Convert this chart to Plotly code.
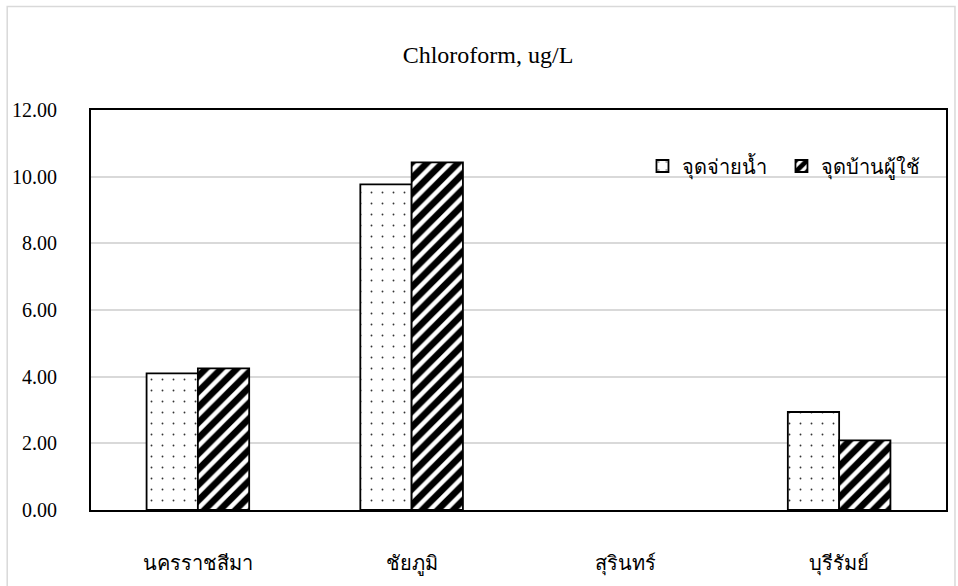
import plotly.graph_objects as go

# Chloroform concentrations (ug/L) by province and sampling point
provinces = ["นครราชสีมา", "ชัยภูมิ", "สุรินทร์", "บุรีรัมย์"]
series_names = ["จุดจ่ายน้ำ", "จุดบ้านผู้ใช้"]
supply_point = [4.10, 9.77, 0.0, 2.94]
household_point = [4.25, 10.43, 0.0, 2.09]
y_ticks = [0, 2, 4, 6, 8, 10, 12]

serif = "Liberation Serif, Times New Roman, serif"


def outline_widths(values, width=1.8):
    # no outline for empty (zero) bars
    return [width if v > 0 else 0 for v in values]


fig = go.Figure()
fig.add_trace(go.Bar(
    x=provinces, y=supply_point, name=series_names[0],
    marker=dict(color="white",
                line=dict(color="black", width=outline_widths(supply_point)),
                pattern=dict(shape=".", fgcolor="black", bgcolor="white",
                             fgopacity=0.8, size=11, solidity=0.022)),
))
fig.add_trace(go.Bar(
    x=provinces, y=household_point, name=series_names[1],
    marker=dict(color="white",
                line=dict(color="black", width=outline_widths(household_point)),
                pattern=dict(shape="/", fgcolor="black", bgcolor="white",
                             fgopacity=1, size=11, solidity=0.6)),
))

fig.update_layout(
    width=958, height=586,
    margin=dict(l=91, r=10, t=110, b=70),
    paper_bgcolor="white", plot_bgcolor="white",
    barmode="group", bargap=0.52, bargroupgap=0,
    font=dict(family=serif, size=19, color="black"),
    title=dict(text="Chloroform, ug/L", x=488 / 958, xanchor="center",
               xref="container", y=1 - 55 / 586, yref="container",
               yanchor="middle",
               font=dict(family=serif, size=24, color="black")),
    legend=dict(orientation="h", x=0.645, xanchor="left", y=0.86,
                yanchor="middle", bgcolor="rgba(0,0,0,0)",
                entrywidth=94, entrywidthmode="pixels",
                font=dict(family=serif, size=20, color="black")),
    showlegend=True,
)
fig.update_yaxes(
    range=[0, 12], tickvals=y_ticks, tickformat=".2f",
    showgrid=True, gridcolor="#d9d9d9", gridwidth=1.5,
    showline=True, linecolor="black", linewidth=2, mirror=True,
    ticks="", ticklabelstandoff=28, zeroline=False,
    tickfont=dict(family=serif, size=20, color="black"),
)
fig.update_xaxes(
    showline=True, linecolor="black", linewidth=2, mirror=True,
    ticks="", ticklabelstandoff=34,
    tickfont=dict(family=serif, size=20, color="black"),
)

# light outer frame around the whole chart area
fig.add_shape(type="rect", xref="paper", yref="paper",
              x0=(7 - 91) / 857, x1=(957 - 91) / 857,
              y0=(516 - 620) / 406, y1=(516 - 5) / 406,
              line=dict(color="#d9d9d9", width=1.5), layer="below")

fig.write_html("out.html")
